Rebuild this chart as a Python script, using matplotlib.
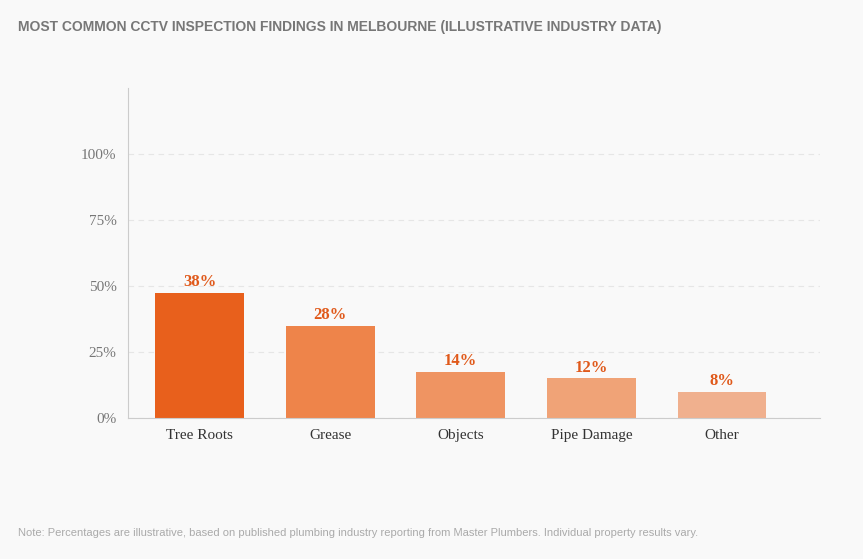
import matplotlib.pyplot as plt

categories = ['Tree Roots', 'Grease', 'Objects', 'Pipe Damage', 'Other']
values = [38, 28, 14, 12, 8]
labels = ['38%', '28%', '14%', '12%', '8%']
bar_colors = ['#e8601c', '#ee844a', '#ef9462', '#f0a377', '#f0b08e']
yticks = [0, 25, 50, 75, 100]
scale = 1.25  # bars in the source are drawn 1.25x their labelled value

bg = '#f9f9f9'
fig = plt.figure(figsize=(8.63, 5.59), dpi=100, facecolor=bg)
ax = fig.add_axes([0.148, 0.252, 0.802, 0.591], facecolor=bg)

x = range(len(categories))
heights = [v * scale for v in values]
ax.bar(x, heights, width=0.68, color=bar_colors, zorder=2)
for i, h in enumerate(heights):
    ax.text(i, h + 1, labels[i], ha='center', va='bottom', color='#e0591a',
            fontsize=12, fontweight='bold', family='Liberation Serif')

ax.set_xlim(-0.55, 4.75)
ax.set_ylim(0, 125)
ax.set_yticks(yticks)
ax.set_yticklabels([f'{t}%' for t in yticks], family='Liberation Serif', fontsize=11, color='#777777')
ax.set_xticks(list(x))
ax.set_xticklabels(categories, family='Liberation Serif', fontsize=11, color='#333333')
ax.tick_params(length=0, pad=8)
ax.grid(axis='y', color='#e6e6e6', linestyle=(0, (5, 4)), linewidth=0.8, zorder=0)
for s in ['top', 'right']:
    ax.spines[s].set_visible(False)
ax.spines['left'].set_color('#cccccc')
ax.spines['bottom'].set_color('#cccccc')

fig.text(0.021, 0.945, 'MOST COMMON CCTV INSPECTION FINDINGS IN MELBOURNE (ILLUSTRATIVE INDUSTRY DATA)',
         fontsize=10, fontweight='bold', color='#777777', family='Liberation Sans')
fig.text(0.021, 0.042, 'Note: Percentages are illustrative, based on published plumbing industry reporting from Master Plumbers. Individual property results vary.',
         fontsize=8, color='#aaaaaa', family='Liberation Sans')

fig.savefig('out.png', dpi=100, facecolor=bg)
